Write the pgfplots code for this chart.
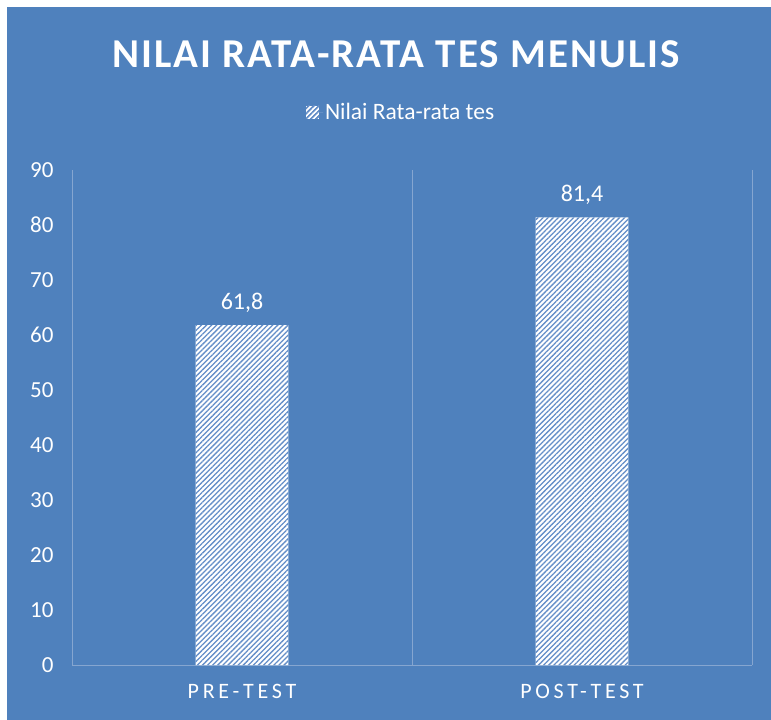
\documentclass[border=0pt]{standalone}
\usepackage{pgfplots}
\pgfplotsset{compat=1.18}
\usepackage{fontspec}
\setmainfont{Carlito}
\usetikzlibrary{patterns.meta}
\definecolor{bg}{RGB}{79,129,189}
\definecolor{gridc}{RGB}{134,166,208}
\definecolor{stripe}{RGB}{100,142,200}
\begin{document}
\begin{tikzpicture}[x=1pt,y=1pt]
\useasboundingbox (0,0) rectangle (771,720);
\fill[white] (0,0) rectangle (771,720);
\fill[bg] (7,0) rectangle (771,713);
\node[text=white,font=\fontsize{41}{44}\selectfont\bfseries\addfontfeatures{LetterSpace=5}] at (396,666) {NILAI RATA-RATA TES MENULIS};
\begin{axis}[
  at={(72pt,55pt)}, anchor=south west,
  scale only axis, width=680pt, height=495pt,
  ybar, bar width=0.273,
  xmin=-0.5, xmax=1.5, ymin=0, ymax=90,
  xtick={0,1}, xticklabels={PRE-TEST,POST-TEST},
  minor xtick={-0.5,0.5,1.5}, xminorgrids,
  minor x grid style={gridc, line width=1pt},
  ytick={0,10,...,90},
  axis lines*=left,
  x axis line style={gridc, line width=1pt, -},
  y axis line style={draw=none},
  major tick length=0pt, minor tick length=0pt,
  tick style={draw=none},
  /pgf/number format/assume math mode=true,
  ticklabel style={text=white, font=\fontsize{23}{26}\selectfont},
  xticklabel style={font=\fontsize{22}{26}\selectfont\addfontfeatures{LetterSpace=17}, yshift=-16pt},
  yticklabel style={xshift=-15pt},
  nodes near coords,
  nodes near coords style={text=white, font=\fontsize{24}{26}\selectfont, yshift=9pt,
    /pgf/number format/.cd, fixed, fixed zerofill, precision=1, use comma},
  legend style={at={(0.484,1.117)}, anchor=center, draw=none, fill=none,
    text=white, font=\fontsize{23.5}{26}\selectfont},
  legend image code/.code={
    \fill[white] (0pt,-6.5pt) rectangle (13pt,6.5pt);
    \fill[pattern={Lines[angle=45,distance=3.6pt,line width=1.3pt]}, pattern color=stripe] (0pt,-6.5pt) rectangle (13pt,6.5pt);
    \path (0pt,0pt) -- (17pt,0pt);
  },
  legend cell align=left,
  clip=false,
]
\addplot[draw=none, fill=white, postaction={pattern={Lines[angle=45,distance=3.6pt,line width=1.3pt]}, pattern color=stripe}] coordinates {(0,61.8) (1,81.4)};
\legend{Nilai Rata-rata tes}
\end{axis}
\end{tikzpicture}
\end{document}
